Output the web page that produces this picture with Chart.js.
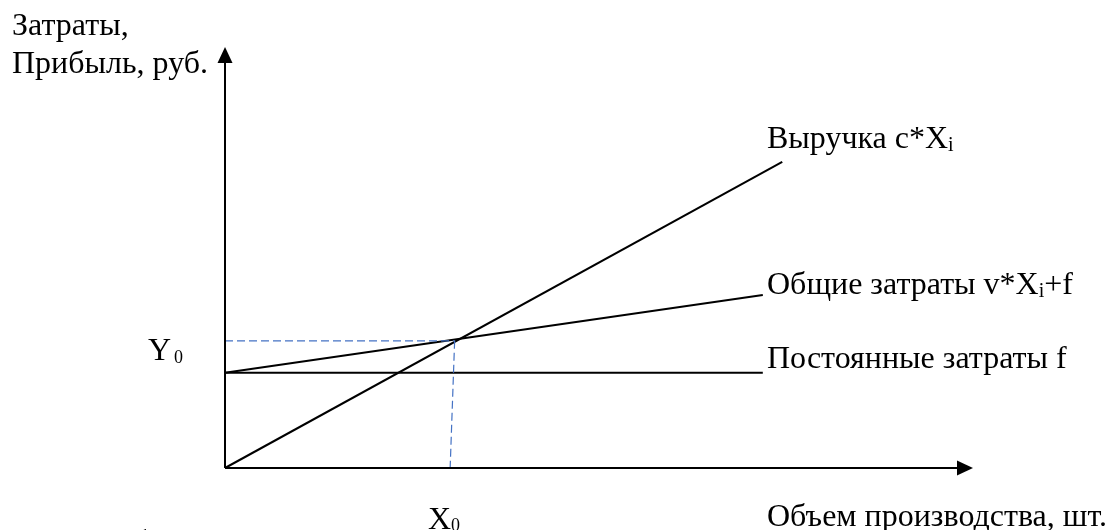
<!DOCTYPE html>
<html>
<head>
<meta charset="utf-8">
<script src="https://cdn.jsdelivr.net/npm/chart.js@4"></script>
<style>
html,body{margin:0;padding:0;background:#fff;}
canvas{display:block;}
</style>
</head>
<body>
<canvas id="c" width="1113" height="530"></canvas>
<script>
// Schematic break-even chart (values in arbitrary units)
const revenue = [{x:0,y:0},{x:74.5,y:72.7}];
const totalCost = [{x:0,y:22.6},{x:71.9,y:41.1}];
const fixedCost = [{x:0,y:22.6},{x:71.9,y:22.6}];
const breakEvenX = 30.7;
const breakEvenXBottom = 30.1;
const breakEvenY = 30.2;
const guideH = [{x:0,y:breakEvenY},{x:breakEvenX,y:breakEvenY}];
const guideV = [{x:breakEvenX,y:breakEvenY},{x:breakEvenXBottom,y:0}];
const axisMax = {x:100, y:100};

const FONT = '"Liberation Serif", "Times New Roman", serif';

const overlay = {
  id:'overlay',
  afterDatasetsDraw(chart){
    const ctx = chart.ctx, xs = chart.scales.x, ys = chart.scales.y;
    const ox = xs.getPixelForValue(0), oy = ys.getPixelForValue(0);
    const tx = xs.getPixelForValue(axisMax.x), ty = ys.getPixelForValue(axisMax.y);
    ctx.save();
    ctx.strokeStyle = '#000'; ctx.fillStyle = '#000'; ctx.lineWidth = 2;
    ctx.beginPath(); ctx.moveTo(ox, oy); ctx.lineTo(ox, ty + 10); ctx.stroke();
    ctx.beginPath(); ctx.moveTo(ox, oy); ctx.lineTo(tx - 10, oy); ctx.stroke();
    // arrow heads
    ctx.beginPath(); ctx.moveTo(ox, ty); ctx.lineTo(ox - 7.5, ty + 16); ctx.lineTo(ox + 7.5, ty + 16); ctx.closePath(); ctx.fill();
    ctx.beginPath(); ctx.moveTo(tx, oy); ctx.lineTo(tx - 16, oy - 7.5); ctx.lineTo(tx - 16, oy + 7.5); ctx.closePath(); ctx.fill();

    ctx.textBaseline = 'alphabetic'; ctx.textAlign = 'left';
    const size = 32;
    function txt(parts, x, y){
      let cx = x;
      for (const p of parts){
        const s = p.sub ? p.sub : size;
        ctx.font = s + 'px ' + FONT;
        cx += (p.dx || 0);
        ctx.fillText(p.t, cx, y + (p.sub ? (p.dy || 3) : 0));
        cx += ctx.measureText(p.t).width;
      }
    }
    txt([{t:'Затраты,'}], 12, 35);
    txt([{t:'Прибыль, руб.'}], 12, 73);
    txt([{t:'Выручка c*X'},{t:'i',sub:20}], 767, 148);
    txt([{t:'Общие затраты v*X'},{t:'i',sub:20},{t:'+f'}], 767, 294);
    txt([{t:'Постоянные затраты f'}], 767, 368);
    txt([{t:'Объем производства, шт.'}], 767, 526);
    txt([{t:'Y'},{t:'0',sub:18,dx:3,dy:3}], 148, 360);
    txt([{t:'X'},{t:'0',sub:18,dy:2}], 428, 529);
    txt([{t:'Условие безопасности'}], 12, 552);
    ctx.restore();
  }
};

const lineDs = (data, extra) => Object.assign({
  data, borderColor:'#000', borderWidth:2, pointRadius:0, showLine:true, fill:false, tension:0, clip:false
}, extra||{});

new Chart(document.getElementById('c'), {
  type:'scatter',
  data:{datasets:[
    lineDs(guideH, {borderColor:'#4472C4', borderWidth:1.2, borderDash:[8,4]}),
    lineDs(guideV, {borderColor:'#4472C4', borderWidth:1.2, borderDash:[8,4]}),
    lineDs(revenue),
    lineDs(totalCost),
    lineDs(fixedCost)
  ]},
  options:{
    responsive:false, animation:false, events:[],
    layout:{padding:{left:225, right:140, top:47, bottom:62}},
    plugins:{legend:{display:false}, tooltip:{enabled:false}},
    scales:{
      x:{type:'linear', min:0, max:axisMax.x, display:false},
      y:{type:'linear', min:0, max:axisMax.y, display:false}
    }
  },
  plugins:[overlay]
});
</script>
</body>
</html>
